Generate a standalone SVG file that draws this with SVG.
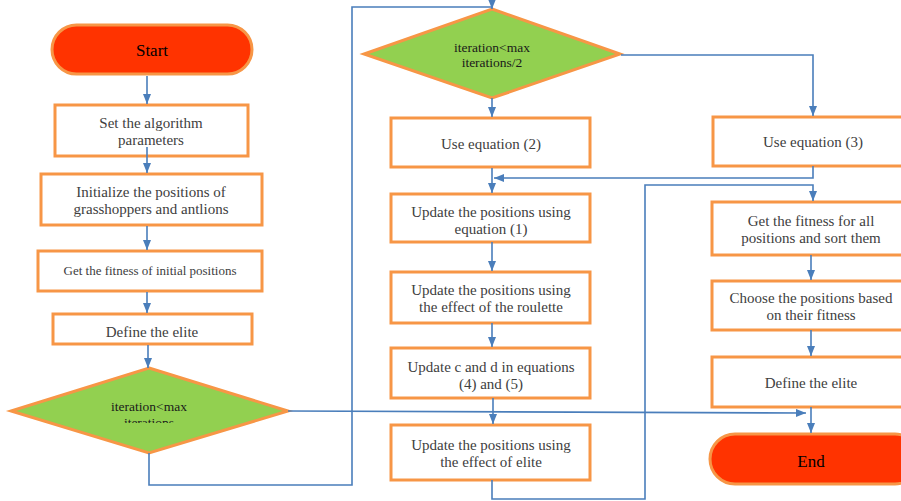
<svg xmlns="http://www.w3.org/2000/svg" width="901" height="501" viewBox="0 0 901 501">
<defs>
<style>
.box{fill:#ffffff;stroke:#F79646;stroke-width:3}
.term{fill:#FF3300;stroke:#F79646;stroke-width:3}
.dec{fill:#92D050;stroke:#F79646;stroke-width:3}
.t{font-family:"Liberation Serif","DejaVu Serif",serif;font-size:15px;fill:#404040;text-anchor:middle}
.ts{font-size:13px}
.td{font-family:"Liberation Serif","DejaVu Serif",serif;font-size:13.5px;fill:#1a1a1a;text-anchor:middle}
.tt{font-family:"Liberation Serif","DejaVu Serif",serif;font-size:17px;fill:#000000;text-anchor:middle}
.c{fill:none;stroke:#4A7EBB;stroke-width:1.6}
</style>
<marker id="ah" viewBox="0 0 10 8" refX="10" refY="4" markerWidth="10" markerHeight="8" markerUnits="userSpaceOnUse" orient="auto">
<path d="M0,0 L10,4 L0,8 z" fill="#4A7EBB"/>
</marker>
<clipPath id="clipd1"><rect x="60" y="395" width="180" height="28"/></clipPath>
</defs>

<g id="start"><rect class="term" x="52" y="25" width="200" height="49" rx="24.5"/><text class="tt" x="152" y="56">Start</text></g>
<g id="setparams"><rect class="box" x="55" y="105" width="193" height="51"/><text class="t" x="151" y="128">Set the algorithm</text><text class="t" x="151" y="145">parameters</text></g>
<g id="init"><rect class="box" x="41" y="174" width="221" height="51"/><text class="t" x="151" y="197">Initialize the positions of</text><text class="t" x="151" y="214">grasshoppers and antlions</text></g>
<g id="fitness0"><rect class="box" x="38" y="251" width="224" height="40"/><text class="t ts" x="150" y="275">Get the fitness of initial positions</text></g>
<g id="elite0"><rect class="box" x="53" y="314" width="199" height="30"/><text class="t" x="152" y="337">Define the elite</text></g>
<g id="dec1"><polygon class="dec" points="149,368 288,411 149,453 11,411"/><g clip-path="url(#clipd1)"><text class="td" x="149" y="411">iteration&lt;max</text><text class="td" x="149" y="427">iterations</text></g></g>

<g id="dec2"><polygon class="dec" points="492,9 620,54 492,98 364,54"/><text class="td" x="492" y="52">iteration&lt;max</text><text class="td" x="492" y="67">iterations/2</text></g>
<g id="eq2"><rect class="box" x="391" y="118" width="199" height="49"/><text class="t" x="491" y="149">Use equation (2)</text></g>
<g id="upd1"><rect class="box" x="391" y="194" width="199" height="48"/><text class="t" x="491" y="217">Update the positions using</text><text class="t" x="491" y="234">equation (1)</text></g>
<g id="roulette"><rect class="box" x="391" y="272" width="199" height="51"/><text class="t" x="491" y="295">Update the positions using</text><text class="t" x="491" y="312">the effect of the roulette</text></g>
<g id="updcd"><rect class="box" x="391" y="348" width="199" height="50"/><text class="t" x="491" y="372">Update c and d in equations</text><text class="t" x="491" y="389">(4) and (5)</text></g>
<g id="updelite"><rect class="box" x="391" y="425" width="199" height="55"/><text class="t" x="491" y="450">Update the positions using</text><text class="t" x="491" y="467">the effect of elite</text></g>

<g id="eq3"><rect class="box" x="713" y="117" width="200" height="49"/><text class="t" x="813" y="147">Use equation (3)</text></g>
<g id="fitsort"><rect class="box" x="712" y="202" width="200" height="53"/><text class="t" x="811" y="226">Get the fitness for all</text><text class="t" x="811" y="243">positions and sort them</text></g>
<g id="choose"><rect class="box" x="712" y="281" width="200" height="49"/><text class="t" x="811" y="303">Choose the positions based</text><text class="t" x="811" y="320">on their fitness</text></g>
<g id="elite1"><rect class="box" x="712" y="357" width="200" height="50"/><text class="t" x="811" y="388">Define the elite</text></g>
<g id="end"><rect class="term" x="710" y="434" width="210" height="50" rx="25"/><text class="tt" x="811" y="467">End</text></g>

<g id="connectors">
<path class="c" d="M147,76 V104" marker-end="url(#ah)"/>
<path class="c" d="M147,147 V173" marker-end="url(#ah)"/>
<path class="c" d="M147,226 V250" marker-end="url(#ah)"/>
<path class="c" d="M147,292 V313" marker-end="url(#ah)"/>
<path class="c" d="M148,345 V368" marker-end="url(#ah)"/>
<path class="c" d="M149,453 V485 H352 V7 H492 V9" marker-end="url(#ah)"/>
<path class="c" d="M621,55 H813 V116" marker-end="url(#ah)"/>
<path class="c" d="M492,98 V117" marker-end="url(#ah)"/>
<path class="c" d="M813,166 V178 H494" marker-end="url(#ah)"/>
<path class="c" d="M492,168 V193" marker-end="url(#ah)"/>
<path class="c" d="M492,242 V271" marker-end="url(#ah)"/>
<path class="c" d="M492,323 V347" marker-end="url(#ah)"/>
<path class="c" d="M493,398 V424" marker-end="url(#ah)"/>
<path class="c" d="M492,480 V499 H645 V185 H813 V201" marker-end="url(#ah)"/>
<path class="c" d="M288,411 L806,413" marker-end="url(#ah)"/>
<path class="c" d="M811,255 V280" marker-end="url(#ah)"/>
<path class="c" d="M811,330 V356" marker-end="url(#ah)"/>
<path class="c" d="M811,407 V433" marker-end="url(#ah)"/>
</g>
</svg>
